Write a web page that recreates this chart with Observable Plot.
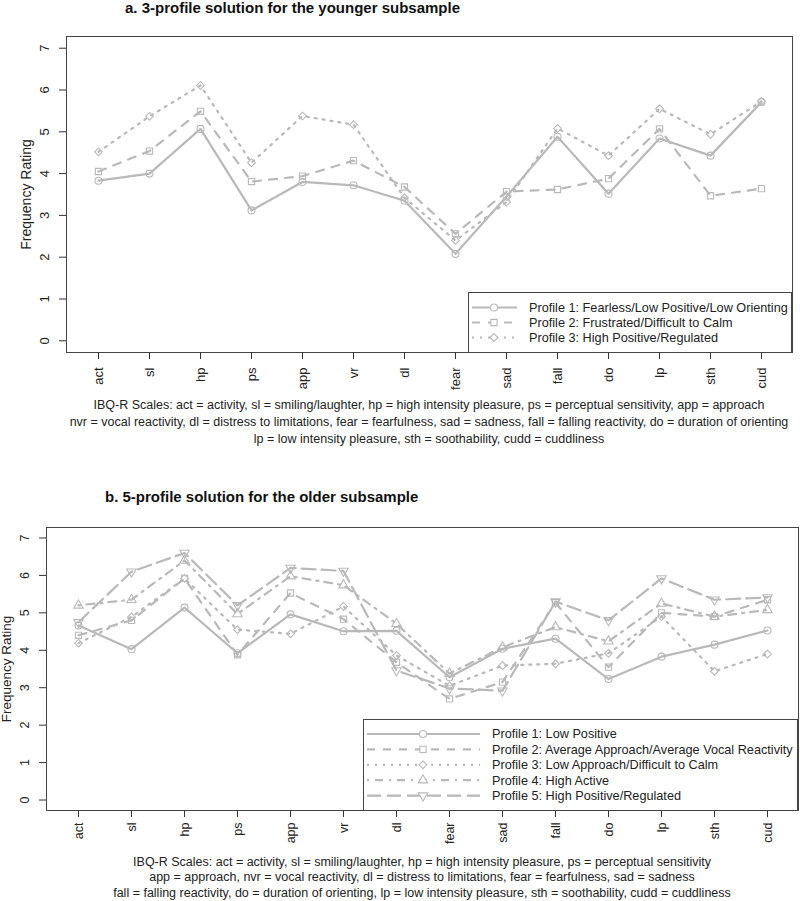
<!DOCTYPE html>
<html>
<head>
<meta charset="utf-8">
<script src="https://cdn.jsdelivr.net/npm/d3@7"></script>
<script src="https://cdn.jsdelivr.net/npm/@observablehq/plot@0.6"></script>
<style>
  body { margin: 0; background: #fff; font-family: "Liberation Sans", Arial, Helvetica, sans-serif; }
  #page { position: relative; width: 800px; height: 901px; overflow: hidden; background: #fff; }
  .abs { position: absolute; }
  .title { font-weight: bold; font-size: 15px; line-height: 16px; white-space: nowrap; color: #111; }
  .cap { font-size: 12.5px; text-align: center; white-space: nowrap; color: #222; }
</style>
</head>
<body>
<div id="page"></div>
<script>
// ---------- DATA ----------
const scaleLabels = ["act", "sl", "hp", "ps", "app", "vr", "dl", "fear", "sad", "fall", "do", "lp", "sth", "cud"];
const yTicks = [0, 1, 2, 3, 4, 5, 6, 7];

const titleA = "a. 3-profile solution for the younger subsample";
const titleB = "b. 5-profile solution for the older subsample";
const yLabel = "Frequency Rating";

const youngNames = [
  "Profile 1: Fearless/Low Positive/Low Orienting",
  "Profile 2: Frustrated/Difficult to Calm",
  "Profile 3: High Positive/Regulated"
];
const youngP1 = [3.83, 4.00, 5.07, 3.12, 3.80, 3.72, 3.35, 2.08, 3.45, 4.88, 3.52, 4.84, 4.43, 5.71];
const youngP2 = [4.05, 4.54, 5.49, 3.81, 3.94, 4.31, 3.68, 2.56, 3.57, 3.62, 3.88, 5.07, 3.47, 3.64];
const youngP3 = [4.52, 5.37, 6.11, 4.26, 5.38, 5.17, 3.42, 2.40, 3.32, 5.08, 4.43, 5.55, 4.94, 5.73];

const olderNames = [
  "Profile 1: Low Positive",
  "Profile 2: Average Approach/Average Vocal Reactivity",
  "Profile 3: Low Approach/Difficult to Calm",
  "Profile 4: High Active",
  "Profile 5: High Positive/Regulated"
];
const olderP1 = [4.66, 4.03, 5.14, 3.92, 4.96, 4.51, 4.52, 3.28, 4.04, 4.31, 3.23, 3.83, 4.15, 4.53];
const olderP2 = [4.40, 4.80, 5.92, 3.88, 5.53, 4.83, 3.68, 2.70, 3.15, 5.27, 3.55, 5.00, 4.90, 5.35];
const olderP3 = [4.19, 4.89, 5.92, 4.55, 4.44, 5.17, 3.86, 3.05, 3.59, 3.64, 3.92, 4.90, 3.44, 3.90];
const olderP4 = [5.20, 5.35, 6.40, 4.97, 5.98, 5.74, 4.71, 3.38, 4.08, 4.62, 4.24, 5.25, 4.90, 5.08];
const olderP5 = [4.75, 6.10, 6.60, 5.20, 6.20, 6.12, 3.46, 2.98, 2.92, 5.30, 4.80, 5.92, 5.35, 5.41];

const captionA = [
  "IBQ-R Scales: act = activity, sl = smiling/laughter, hp = high intensity pleasure, ps = perceptual sensitivity, app = approach",
  "nvr = vocal reactivity, dl = distress to limitations, fear = fearfulness, sad = sadness, fall = falling reactivity, do = duration of orienting",
  "lp = low intensity pleasure, sth = soothability, cudd = cuddliness"
];
const captionB = [
  "IBQ-R Scales: act = activity, sl = smiling/laughter, hp = high intensity pleasure, ps = perceptual sensitivity",
  "app = approach, nvr = vocal reactivity, dl = distress to limitations, fear = fearfulness, sad = sadness",
  "fall = falling reactivity, do = duration of orienting, lp = low intensity pleasure, sth = soothability, cudd = cuddliness"
];

// ---------- STYLE ----------
const grey = "#b9b9b9";
const styles = [
  {dash: null, symbol: "circle", d3sym: d3.symbolCircle, rotate: 0},
  {dash: "8,8", symbol: "square", d3sym: d3.symbolSquare, rotate: 0},
  {dash: "2,6", symbol: "diamond2", d3sym: d3.symbolDiamond2, rotate: 0},
  {dash: "2,6,8,6", symbol: "triangle", d3sym: d3.symbolTriangle, rotate: 0},
  {dash: "14,6", symbol: "triangle", d3sym: d3.symbolTriangle, rotate: 180}
];
const dotR = 3.5;

const page = document.getElementById("page");

function addDiv(cls, html, css) {
  const d = document.createElement("div");
  d.className = "abs " + cls;
  d.innerHTML = html;
  Object.assign(d.style, css);
  page.appendChild(d);
  return d;
}

function panel(cfg) {
  const {series, top, height, marginTop, marginBottom, marginLeft, marginRight, xPadTick, fontSize, labelSize} = cfg;
  const marks = [Plot.frame({stroke: "#444", strokeWidth: 1})];
  series.forEach((vals, i) => {
    const d = vals.map((v, j) => ({scale: scaleLabels[j], value: v}));
    const s = styles[i];
    marks.push(Plot.line(d, {x: "scale", y: "value", stroke: grey, strokeWidth: 2.2, strokeDasharray: s.dash, strokeLinejoin: "round"}));
    marks.push(Plot.dot(d, {x: "scale", y: "value", symbol: s.symbol, r: dotR, stroke: grey, strokeWidth: 1.1, fill: "none", rotate: s.rotate}));
  });
  marks.push(Plot.axisX({tickSize: 7, tickPadding: xPadTick, tickRotate: -90, fontSize, label: null, stroke: "#333"}));
  marks.push(Plot.axisY({ticks: yTicks, tickSize: 7, tickPadding: 11, tickRotate: -90, fontSize, label: null, stroke: "#333"}));
  marks.push(Plot.text([yLabel], {frameAnchor: "left", textAnchor: "middle", dx: -40, rotate: -90, text: d => d, fontSize: labelSize, fill: "#222"}));
  const svg = Plot.plot({
    width: 800,
    height,
    marginTop, marginBottom, marginLeft, marginRight,
    style: {fontFamily: "'Liberation Sans', Arial, sans-serif", color: "#222", background: "transparent"},
    x: {type: "point", domain: scaleLabels, padding: 0.52},
    y: {domain: [-0.28, 7.28]},
    marks
  });
  svg.style.position = "absolute";
  svg.style.left = "0px";
  svg.style.top = top + "px";
  page.appendChild(svg);
}

function legend(cfg) {
  const {names, left, top, width, height, first, step, lineX0, lineX1, markX, textX, fontSize} = cfg;
  const svg = d3.create("svg").attr("width", width).attr("height", height)
    .style("position", "absolute").style("left", left + "px").style("top", top + "px");
  svg.append("rect").attr("x", 0.5).attr("y", 0.5).attr("width", width - 1).attr("height", height - 1)
    .attr("fill", "#fff").attr("stroke", "#444");
  names.forEach((n, i) => {
    const y = first + i * step;
    const s = styles[i];
    svg.append("line").attr("x1", lineX0).attr("x2", lineX1).attr("y1", y).attr("y2", y)
      .attr("stroke", grey).attr("stroke-width", 2.2).attr("stroke-dasharray", s.dash);
    svg.append("path").attr("d", d3.symbol(s.d3sym, Math.PI * dotR * dotR)())
      .attr("transform", `translate(${markX},${y}) rotate(${s.rotate})`)
      .attr("fill", "#fff").attr("stroke", grey).attr("stroke-width", 1.1);
    svg.append("text").attr("x", textX).attr("y", y).attr("dy", "0.35em")
      .attr("font-size", fontSize).attr("fill", "#222")
      .attr("font-family", "'Liberation Sans', Arial, sans-serif").text(n);
  });
  page.appendChild(svg.node());
}

// ---------- PANEL A ----------
addDiv("title", titleA, {left: "125px", top: "0px"});
panel({series: [youngP1, youngP2, youngP3], top: 20, height: 380, marginTop: 16, marginBottom: 48,
  marginLeft: 66, marginRight: 8, xPadTick: 8, fontSize: 13, labelSize: 14});
legend({names: youngNames, left: 468, top: 292, width: 324, height: 61, first: 15.5, step: 15,
  lineX0: 4, lineX1: 49, markX: 26, textX: 61, fontSize: 12.7});
addDiv("cap", captionA.join("<br>"), {left: "29px", width: "800px", top: "397px", lineHeight: "17px"});

// ---------- PANEL B ----------
addDiv("title", titleB, {left: "105px", top: "489px"});
panel({series: [olderP1, olderP2, olderP3, olderP4, olderP5], top: 505, height: 345, marginTop: 22, marginBottom: 40,
  marginLeft: 46, marginRight: 2, xPadTick: 5, fontSize: 12.5, labelSize: 13.5});
legend({names: olderNames, left: 363, top: 719, width: 435, height: 92, first: 15, step: 15.4,
  lineX0: 4, lineX1: 117, markX: 60, textX: 129, fontSize: 12.7});
addDiv("cap", captionB.join("<br>"), {left: "22px", width: "800px", top: "855px", lineHeight: "15.3px"});
</script>
</body>
</html>
